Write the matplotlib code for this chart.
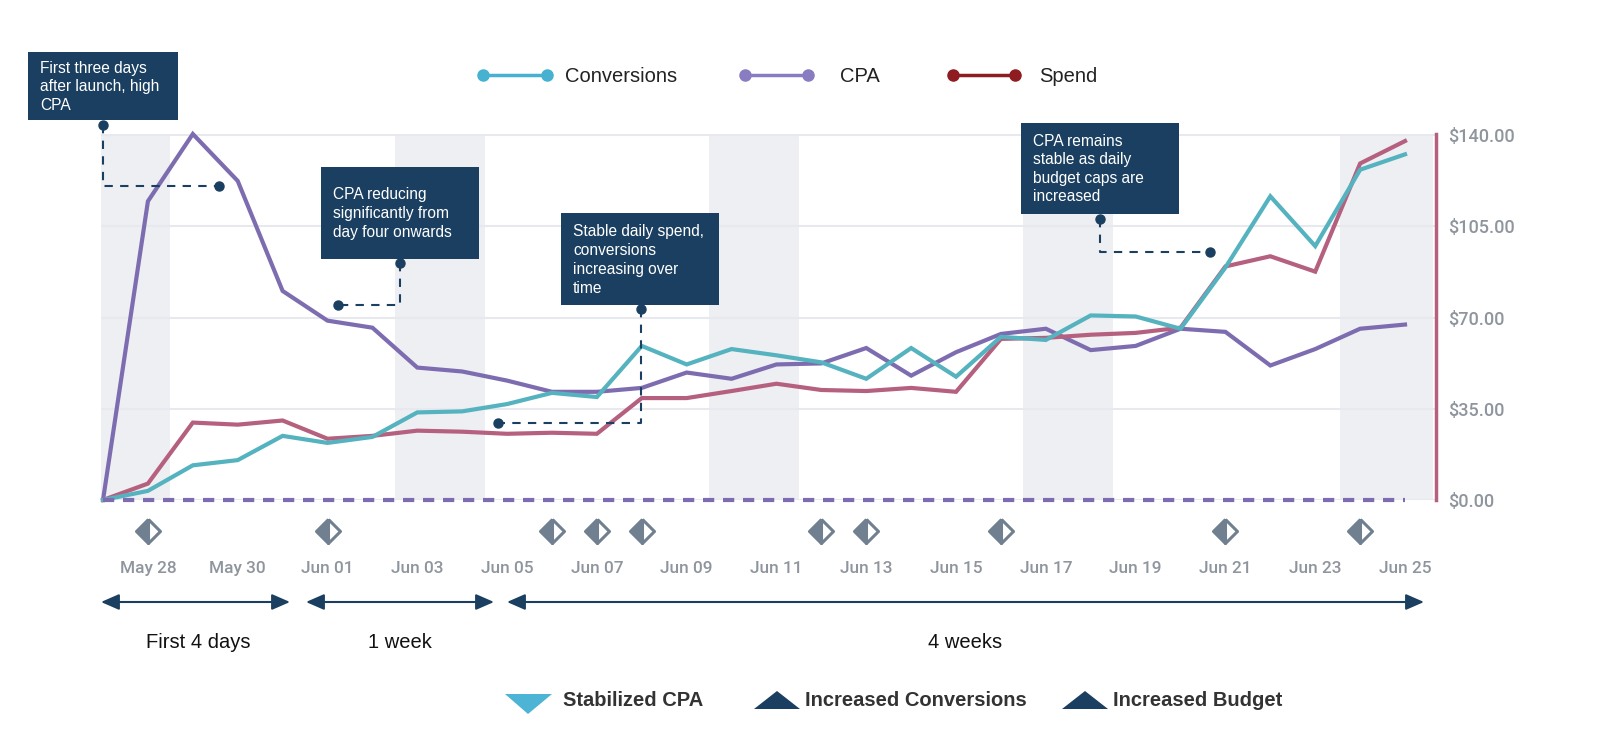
import matplotlib
matplotlib.use('Agg')
import matplotlib.pyplot as plt
from matplotlib.markers import MarkerStyle
import numpy as np

# daily values, May 27 to Jun 25
conversions = [0, 3.5, 13.3, 15.3, 24.6, 21.9, 24.2, 33.6, 34, 36.8, 41.1, 39.5, 59.1, 52, 57.9,
               55.5, 52.8, 46.5, 58.3, 47.3, 62.6, 61.4, 70.8, 70.4, 65.7, 89.2, 116.5, 97.4, 126.7, 132.6]
cpa = [0, 114.6, 140.4, 122.4, 80.2, 68.8, 66.1, 50.8, 49.3, 45.8, 41.5, 41.5, 43, 48.9, 46.5,
       52, 52.4, 58.3, 47.7, 56.7, 63.7, 65.7, 57.5, 59.1, 65.7, 64.5, 51.6, 57.9, 65.7, 67.3]
spend = [0, 6.3, 29.7, 28.9, 30.5, 23.5, 24.6, 26.6, 26.2, 25.4, 25.8, 25.4, 39.1, 39.1, 41.8,
         44.6, 42.2, 41.8, 43, 41.5, 61.8, 62.2, 63.4, 64.1, 66.1, 89.6, 93.5, 87.6, 129.1, 137.7]
days = np.arange(len(cpa))

tick_days = [1, 3, 5, 7, 9, 11, 13, 15, 17, 19, 21, 23, 25, 27, 29]
tick_labels = ['May 28', 'May 30', 'Jun 01', 'Jun 03', 'Jun 05', 'Jun 07', 'Jun 09', 'Jun 11',
               'Jun 13', 'Jun 15', 'Jun 17', 'Jun 19', 'Jun 21', 'Jun 23', 'Jun 25']
y_ticks = [0, 35, 70, 105, 140]
y_labels = ['$0.00', '$35.00', '$70.00', '$105.00', '$140.00']
event_days = [1, 5, 10, 11, 12, 16, 17, 20, 25, 28]
weekend_bands = [(-0.05, 1.5), (6.5, 8.5), (13.5, 15.5), (20.5, 22.5), (27.55, 29.62)]

plt.rcParams['font.family'] = ['Liberation Sans', 'DejaVu Sans']

NAVY = '#1a3f60'
TICK_GRAY = '#8f959d'
fig = plt.figure(figsize=(16, 7.41), dpi=100)

# main chart, axes box worked out from pixels of the reference
ax = fig.add_axes([101 / 1600, (741 - 500) / 741, (1436 - 101) / 1600, 366 / 741])
ax.set_xlim(-0.045, 29.69)
ax.set_ylim(0, 140.4)

for start, end in weekend_bands:
    ax.axvspan(start, end, ymax=140 / 140.4, color='#eeeff2', lw=0, zorder=0)
ax.set_yticks(y_ticks)
ax.grid(axis='y', color='#e8e9ef', lw=1.5)
ax.set_axisbelow(True)

ax.plot(days, cpa, color='#7d6db0', lw=3, clip_on=False, zorder=3, solid_joinstyle='miter')
ax.plot(days, spend, color='#b5607f', lw=3, clip_on=False, zorder=4, solid_joinstyle='miter')
ax.plot(days, conversions, color='#55b2bf', lw=3, clip_on=False, zorder=5, solid_joinstyle='miter')
ax.plot(days, np.zeros(len(days)), color='#7d6db0', lw=3, ls=(0, (2.7, 2.1)), clip_on=False, zorder=6)

for s in ['top', 'left', 'bottom']:
    ax.spines[s].set_visible(False)
ax.spines['right'].set_color('#b5607f')
ax.spines['right'].set_linewidth(2.5)

ax.yaxis.tick_right()
ax.set_yticks(y_ticks, y_labels, family='Roboto', fontsize=13, fontweight='medium', color=TICK_GRAY)
ax.set_xticks(tick_days, tick_labels, family='Roboto', fontsize=12.4, fontweight='medium', color=TICK_GRAY)
ax.tick_params(length=0)
ax.tick_params(axis='x', pad=44)
ax.tick_params(axis='y', pad=9)

# half filled diamonds under the axis
diamond = MarkerStyle('D', fillstyle='left', joinstyle='round')
ax.plot(event_days, [-31 / 366 * 140.4] * len(event_days), ls='none', marker=diamond, ms=12,
        color='#708090', markerfacecoloralt='white', mec='#708090', mew=2.2,
        clip_on=False, zorder=6)

# everything else goes on a pixel overlay
ov = fig.add_axes([0, 0, 1, 1])
ov.set_xlim(0, 1600)
ov.set_ylim(741, 0)
ov.axis('off')
ov.patch.set_alpha(0)

# top legend
legend_items = [('Conversions', '#46b1d0', 483, 547, 565),
                ('CPA', '#8a7cc0', 745, 808, 840),
                ('Spend', '#8e1c20', 953, 1015, 1039)]
for name, col, x0, x1, xt in legend_items:
    ov.plot([x0, x1], [75, 75], color=col, lw=2.5, marker='o', ms=8)
    ov.text(xt, 75, name, fontsize=14.5, va='center_baseline', color='#222222')


# annotation boxes: box, text lines, connector path
def note(x0, x1, y0, y1, text_x, text_y, lines, path):
    ov.fill([x0, x1, x1, x0], [y0, y0, y1, y1], color=NAVY, lw=0, zorder=7)
    for t, yy in zip(lines, text_y):
        ov.text(text_x, yy, t, color='white', fontsize=11.2, va='center_baseline', zorder=8)
    xs, ys = zip(*path)
    ov.plot(xs, ys, color=NAVY, lw=1.5, ls=(0, (4, 3.5)), zorder=8)
    ov.plot([xs[0], xs[-1]], [ys[0], ys[-1]], ls='none', marker='o', ms=6.5, color=NAVY, zorder=9)


note(28, 178, 52, 120, 40, [67, 85, 104], ['First three days', 'after launch, high', 'CPA'],
     [(103, 125), (103, 186), (219, 186)])
note(321, 479, 167, 259, 333, [193, 212, 231],
     ['CPA reducing', 'significantly from', 'day four onwards'],
     [(400, 263), (400, 305), (338, 305)])
note(561, 719, 213, 305, 573, [230, 249, 268, 287],
     ['Stable daily spend,', 'conversions', 'increasing over', 'time'],
     [(641, 309), (641, 423), (498, 423)])
note(1021, 1179, 123, 214, 1033, [140, 158, 177, 195],
     ['CPA remains', 'stable as daily', 'budget caps are', 'increased'],
     [(1100, 219), (1100, 252), (1210, 252)])

# duration arrows
spans = [(101, 290, 198, 'First 4 days'), (306, 494, 400, '1 week'), (507, 1424, 965, '4 weeks')]
for x0, x1, xt, name in spans:
    ov.annotate('', xy=(x1, 602), xytext=(x0, 602),
                arrowprops=dict(arrowstyle='<|-|>,head_length=1.1,head_width=0.48', color=NAVY,
                                lw=1.5, shrinkA=0, shrinkB=0))
    ov.text(xt, 641, name, fontsize=14.5, ha='center', va='center_baseline', color='#111111')

# bottom legend
ov.fill([505, 552, 528], [694, 694, 714], color='#4db4d6', lw=0)
ov.text(563, 698, 'Stabilized CPA', fontsize=14.5, fontweight='bold', va='center_baseline', color='#333333')
ov.fill([754, 800, 777], [709, 709, 691], color=NAVY, lw=0)
ov.text(805, 698, 'Increased Conversions', fontsize=14.5, fontweight='bold', va='center_baseline', color='#333333')
ov.fill([1062, 1108, 1085], [709, 709, 691], color=NAVY, lw=0)
ov.text(1113, 698, 'Increased Budget', fontsize=14.5, fontweight='bold', va='center_baseline', color='#333333')

fig.savefig('out.png', dpi=100)
